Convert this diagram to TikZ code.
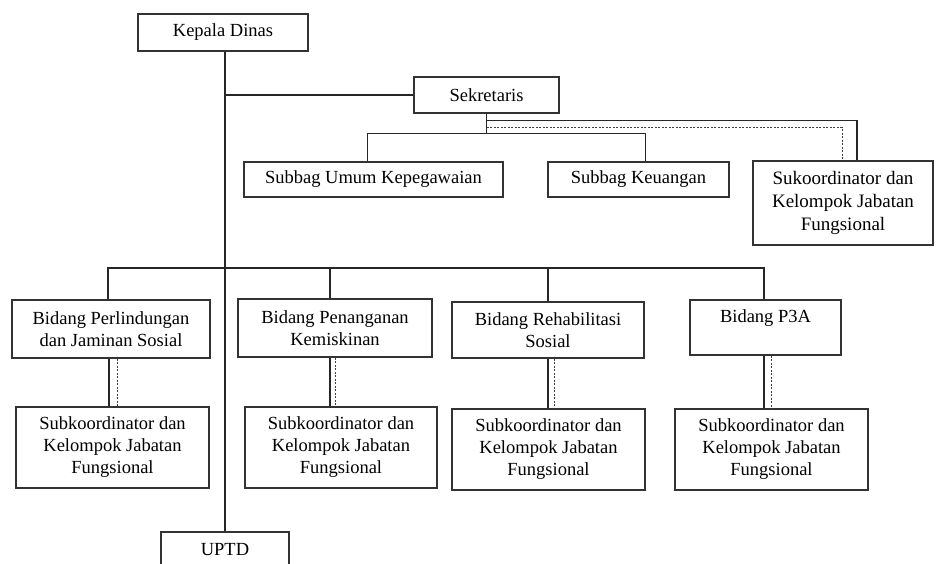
\documentclass[tikz,border=0pt]{standalone}
\usepackage{fontspec}
\setmainfont{Liberation Serif}
\usetikzlibrary{calc}
\begin{document}
\begin{tikzpicture}[x=1pt,y=-1pt,
 box/.style={draw=black!80, line width=1.3pt, align=center, inner sep=0pt, font=\fontsize{18.5}{22}\selectfont},
 ln/.style={draw=black!85, line width=1.3pt},
 dl/.style={draw=black!75, line width=0.9pt, dash pattern=on 2pt off 1.5pt}]
\useasboundingbox (0,0) rectangle (936,563);
% top
\node[box, minimum width=170, minimum height=37] (kd) at (223,32.5) {Kepala Dinas};
\node[box, minimum width=145, minimum height=36] (sek) at (486.5,95) {Sekretaris};
\node[box, minimum width=259, minimum height=35] (su) at (373.5,179.5) {Subbag Umum Kepegawaian};
\node[box, minimum width=181, minimum height=35] (keu) at (638.5,179.5) {Subbag Keuangan};
\node[box, minimum width=180, minimum height=84, font=\fontsize{19}{23}\selectfont] (sk) at (843,203) {Sukoordinator dan\\Kelompok Jabatan\\Fungsional};
% bidang
\node[box, minimum width=198, minimum height=58] (b1) at (111,329) {Bidang Perlindungan\\dan Jaminan Sosial};
\node[box, minimum width=194, minimum height=58] (b2) at (335,328) {Bidang Penanganan\\Kemiskinan};
\node[box, minimum width=192, minimum height=56] (b3) at (548,330) {Bidang Rehabilitasi\\Sosial};
\node[box, minimum width=151, minimum height=55] (b4) at (765.5,327.5) {Bidang P3A\\~};
% sub
\node[box, minimum width=193, minimum height=81] (s1) at (112.5,447.5) {Subkoordinator dan\\Kelompok Jabatan\\Fungsional};
\node[box, minimum width=192, minimum height=81] (s2) at (341,447.5) {Subkoordinator dan\\Kelompok Jabatan\\Fungsional};
\node[box, minimum width=193, minimum height=81] (s3) at (548.5,449.5) {Subkoordinator dan\\Kelompok Jabatan\\Fungsional};
\node[box, minimum width=193, minimum height=81] (s4) at (771.5,449.5) {Subkoordinator dan\\Kelompok Jabatan\\Fungsional};
\node[box, minimum width=128, minimum height=36] (uptd) at (225,550) {UPTD};
% main spine
\draw[ln] (kd.south -| uptd.north) -- (uptd.north);
\draw[ln] (uptd.north |- sek.west) -- (sek.west);
% sekretaris branches
\draw[ln] (sek.south) -- ++(0,20) coordinate (sb);
\draw[ln] ($(sek.south)+(0,7)$) -| ($(sk.north)+(14,0)$);
\draw[dl] ($(sek.south)+(0,14)$) -| ($(sk.north)+(-1,0)$);
\draw[ln] ($(su.north)+(-6,0)$) |- (sb) -| ($(keu.north)+(7,0)$);
% bidang bus
\coordinate (busL) at (108,268);
\coordinate (busR) at (764,268);
\coordinate (x2) at (330,268);
\coordinate (x3) at (548,268);
\draw[ln] (b1.north -| busL) -- (busL) -- (busR) -- (busR |- b4.north);
\draw[ln] (x2) -- (x2 |- b2.north);
\draw[ln] (x3) -- (x3 |- b3.north);
% double links
\coordinate (d1) at (109,0);
\coordinate (d2) at (330,0);
\coordinate (d3) at (548,0);
\coordinate (d4) at (764,0);
\draw[ln] (d1 |- b1.south) -- (d1 |- s1.north);
\draw[dl] ($(d1 |- b1.south)+(8,0)$) -- ($(d1 |- s1.north)+(8,0)$);
\draw[ln] (d2 |- b2.south) -- (d2 |- s2.north);
\draw[dl] ($(d2 |- b2.south)+(5,0)$) -- ($(d2 |- s2.north)+(5,0)$);
\draw[ln] (d3 |- b3.south) -- (d3 |- s3.north);
\draw[dl] ($(d3 |- b3.south)+(6,0)$) -- ($(d3 |- s3.north)+(6,0)$);
\draw[ln] (d4 |- b4.south) -- (d4 |- s4.north);
\draw[dl] ($(d4 |- b4.south)+(7,0)$) -- ($(d4 |- s4.north)+(7,0)$);
\end{tikzpicture}
\end{document}
